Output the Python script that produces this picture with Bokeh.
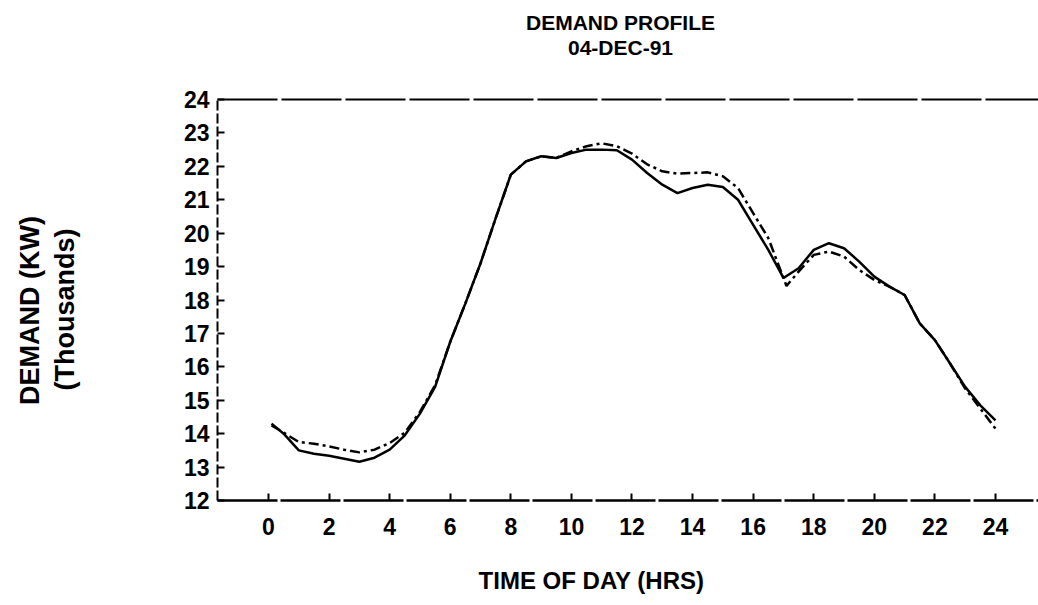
import math
from bokeh.plotting import figure
from bokeh.models import Range1d, FixedTicker, Label, LinearAxis
from bokeh.embed import file_html
from bokeh.resources import INLINE

# ---- data ----
hours_a = [0.1, 0.5, 1.0, 1.5, 2.0, 2.5, 3.0, 3.5, 4.0, 4.5, 5.0, 5.5, 6.0, 6.5, 7.0, 7.5,
           8.0, 8.5, 9.0, 9.5, 10.0, 10.5, 11.0, 11.5, 12.0, 12.5, 13.0, 13.5, 14.0, 14.5,
           15.0, 15.5, 16.0, 16.5, 17.0, 17.5, 18.0, 18.5, 19.0, 19.5, 20.0, 20.5, 21.0,
           21.5, 22.0, 22.5, 23.0, 23.5, 24.0]
demand_a = [14.3, 14.0, 13.5, 13.4, 13.34, 13.25, 13.16, 13.28, 13.52, 13.95, 14.6, 15.4,
            16.75, 17.9, 19.1, 20.45, 21.75, 22.15, 22.3, 22.25, 22.4, 22.5, 22.5, 22.48,
            22.2, 21.8, 21.45, 21.2, 21.35, 21.45, 21.38, 21.0, 20.25, 19.5, 18.66, 18.95,
            19.5, 19.7, 19.55, 19.15, 18.7, 18.4, 18.15, 17.3, 16.8, 16.1, 15.4, 14.85, 14.4]

hours_b = [0.1, 0.5, 1.0, 1.5, 2.0, 2.5, 3.0, 3.5, 4.0, 4.5, 5.0, 5.5, 6.0, 6.5, 7.0, 7.5,
           8.0, 8.5, 9.0, 9.5, 10.0, 10.5, 11.0, 11.5, 12.0, 12.5, 13.0, 13.5, 14.0, 14.5,
           15.0, 15.5, 16.0, 16.5, 17.1, 17.5, 18.0, 18.5, 19.0, 19.5, 20.0, 20.5, 21.0,
           21.5, 22.0, 22.5, 23.0, 23.5, 24.0]
demand_b = [14.25, 14.03, 13.75, 13.7, 13.62, 13.52, 13.44, 13.52, 13.72, 14.03, 14.65, 15.45,
            16.75, 17.9, 19.1, 20.45, 21.75, 22.15, 22.3, 22.25, 22.45, 22.6, 22.69, 22.6,
            22.38, 22.06, 21.85, 21.78, 21.8, 21.82, 21.7, 21.35, 20.6, 19.85, 18.42, 18.85,
            19.35, 19.45, 19.3, 18.9, 18.6, 18.4, 18.15, 17.3, 16.8, 16.1, 15.35, 14.75, 14.15]

x_ticks = [0, 2, 4, 6, 8, 10, 12, 14, 16, 18, 20, 22, 24]
y_ticks = [12, 13, 14, 15, 16, 17, 18, 19, 20, 21, 22, 23, 24]

title_lines = ["DEMAND PROFILE", "04-DEC-91"]
x_title = "TIME OF DAY (HRS)"
y_title_lines = ["DEMAND (KW)", "(Thousands)"]

FONT = "Liberation Sans"

# chart box (data units): hours -1.684 .. 25.42, demand 12 .. 24
X0, X1 = -1.684, 25.42
Y0, Y1 = 12, 24
W, H = 1038, 600
LEFT, TOP, BOTTOM = 217, 99, 500          # pixel edges of the chart box on the canvas
xs = (W - LEFT) / (X1 - X0)
ys = (BOTTOM - TOP) / (Y1 - Y0)

p = figure(width=W, height=H, title=None,
           x_range=Range1d(X0 - LEFT / xs, X1),
           y_range=Range1d(Y0 - (H - BOTTOM) / ys, Y1 + TOP / ys),
           output_backend="svg", toolbar_location=None,
           min_border_left=0, min_border_right=0, min_border_top=0, min_border_bottom=0)

p.outline_line_color = None
p.xgrid.visible = False
p.ygrid.visible = False
p.background_fill_color = "white"
p.border_fill_color = "white"

# axes drawn at fixed positions
for ax in (p.xaxis[0], p.yaxis[0]):
    ax.major_tick_in = 7
    ax.major_tick_out = 0
    ax.minor_tick_line_color = None
    ax.major_tick_line_color = "black"
    ax.major_tick_line_width = 2
    ax.axis_line_color = "black"
    ax.major_label_text_font = FONT
    ax.major_label_text_font_size = "23px"
    ax.major_label_text_font_style = "bold"
    ax.major_label_text_color = "black"

p.xaxis.ticker = FixedTicker(ticks=x_ticks)
p.yaxis.ticker = FixedTicker(ticks=y_ticks)
p.xaxis.fixed_location = Y0
p.yaxis.fixed_location = X0
p.xaxis.bounds = (X0, X1)
p.yaxis.bounds = (Y0, Y1)
p.xaxis.axis_line_width = 2.5
p.xaxis.axis_line_dash = "60 3"
p.xaxis.major_label_standoff = 17
p.yaxis.axis_line_width = 2
p.yaxis.axis_line_dash = "10 3"
p.yaxis.major_label_standoff = 8

# top border as a bare axis
top = LinearAxis(fixed_location=Y1, bounds=(X0, X1), ticker=FixedTicker(ticks=[]),
                 major_label_text_font_size="0px", axis_line_color="black",
                 axis_line_width=2, axis_line_dash="60 4",
                 major_tick_line_color=None, minor_tick_line_color=None)
p.add_layout(top, "above")

# texts (screen units)
def text(t, x, y, size, angle=0.0):
    p.add_layout(Label(x=x, y=y, x_units="screen", y_units="screen", text=t,
                       text_font=FONT, text_font_size=size, text_font_style="bold",
                       text_color="black", text_align="center",
                       text_baseline="middle", angle=angle))

text(title_lines[0], 620, H - 22, "21px")
text(title_lines[1], 620, H - 47, "21px")
text(x_title, 591, H - 580, "24px")
text(y_title_lines[0], 29, H - 310, "27px", math.pi / 2)
text(y_title_lines[1], 64, H - 309, "27px", math.pi / 2)

# data lines
p.line(hours_a, demand_a, line_color="black", line_width=2.5)
p.line(hours_b, demand_b, line_color="black", line_width=2.5, line_dash="10 4 3 4")

open("out.html", "w").write(file_html(p, INLINE))
